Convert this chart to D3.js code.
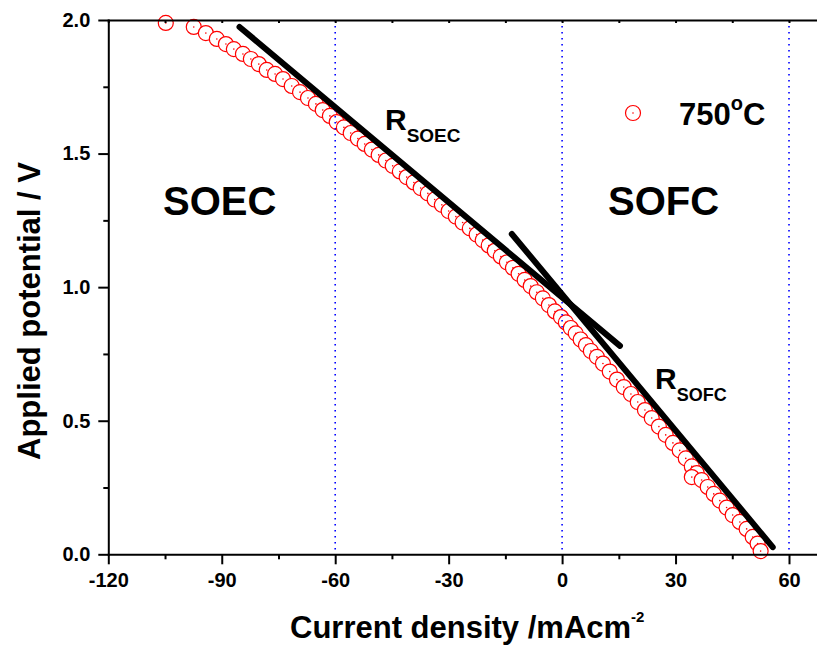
<!DOCTYPE html>
<html>
<head>
<meta charset="utf-8">
<script src="https://cdn.jsdelivr.net/npm/d3@7"></script>
<style>
  html, body { margin: 0; padding: 0; background: #fff; }
  svg { display: block; font-family: "Liberation Sans", Arial, sans-serif; font-weight: bold; }
</style>
</head>
<body>
<svg id="chart"></svg>
<script>
// i-V curve at 750 C (mA cm-2, V)
const currentDensity = [
  -104.8, -97.4, -94.2, -91.3, -88.9, -86.8, -84.4, -82.3, -80.2, -78.1, -75.9, -73.8, -71.5, -69.3, -67.2, -65.1, -63.3, -61.4, -59.6,
  -57.7, -55.9, -54.0, -52.2, -50.3, -48.5, -46.6, -44.8, -42.9, -41.1, -39.2, -37.4, -35.5, -33.7, -31.8, -30.0, -28.1, -26.3, -24.4, -22.6,
  -21.0, -19.4, -17.8, -16.2, -14.6, -13.0, -11.5, -9.9, -8.3, -6.7, -5.1, -3.5, -1.9, -0.3,
  1.0, 2.3, 3.6, 4.9, 6.3, 7.6, 9.2, 10.8, 12.6, 14.5, 16.3, 18.2, 20.0, 21.9, 23.7, 25.6, 27.4, 29.3, 31.1, 32.7, 34.3,
  35.6, 34.3, 36.9, 38.5, 40.1, 41.7, 43.5, 45.1, 47.0, 48.8, 50.4, 51.7, 52.5
];
const potential = [
  1.989, 1.974, 1.951, 1.929, 1.910, 1.891, 1.873, 1.854, 1.835, 1.813, 1.798, 1.779, 1.753, 1.730, 1.708, 1.686, 1.663, 1.641, 1.618,
  1.598, 1.577, 1.556, 1.536, 1.515, 1.495, 1.474, 1.454, 1.433, 1.412, 1.392, 1.371, 1.351, 1.328, 1.308, 1.285, 1.264, 1.242, 1.220, 1.197,
  1.176, 1.156, 1.136, 1.115, 1.093, 1.072, 1.050, 1.027, 1.004, 0.981, 0.958, 0.933, 0.909, 0.888,
  0.868, 0.847, 0.827, 0.804, 0.783, 0.761, 0.739, 0.714, 0.684, 0.654, 0.626, 0.600, 0.570, 0.540, 0.510, 0.478, 0.447, 0.417, 0.389, 0.359, 0.329,
  0.304, 0.289, 0.278, 0.252, 0.226, 0.201, 0.175, 0.147, 0.121, 0.095, 0.065, 0.040, 0.012
];

// tangent lines (ASR slopes)
const soecFit = [[-85.3, 1.974], [15.3, 0.780]];
const sofcFit = [[-13.3, 1.199], [55.7, 0.027]];

// axes
const xTicks = [-120, -90, -60, -30, 0, 30, 60];
const xMinorTicks = [-105, -75, -45, -15, 15, 45];
const yTicks = [0, 0.5, 1.0, 1.5, 2.0];
const yMinorTicks = [0.25, 0.75, 1.25, 1.75];
const dividers = [-60, 0, 60];

const width = 817;
const height = 653;
const margin = { top: 20, left: 108.3, bottom: 98.7 };
const pxPerUnit = (789 - 108.3) / 180;

const svg = d3.select("#chart").attr("width", width).attr("height", height);

// scales - x runs past the right edge, the frame is cut there
const x = d3.scaleLinear()
  .domain([-120, 70])
  .range([margin.left, margin.left + 190 * pxPerUnit]);
const y = d3.scaleLinear()
  .domain([0, 2])
  .range([height - margin.bottom, margin.top]);

const data = currentDensity.map((c, i) => ({ c, v: potential[i] }));

// points: open circles with white fill, later ones cover earlier ones
const pts = svg.append("g")
  .selectAll("g")
  .data(data)
  .join("g")
  .attr("transform", d => `translate(${x(d.c)},${y(d.v)})`);
pts.append("circle")
  .attr("r", 7.5)
  .attr("fill", "#fff")
  .attr("stroke", "#ff0000")
  .attr("stroke-width", 1.2);
pts.append("circle")
  .attr("r", 0.8)
  .attr("fill", "#ff0000");

// blue dotted separators
svg.append("g")
  .selectAll("line")
  .data(dividers)
  .join("line")
  .attr("x1", d => x(d))
  .attr("x2", d => x(d))
  .attr("y1", y(2))
  .attr("y2", y(0))
  .attr("stroke", "#0000ff")
  .attr("stroke-width", 1.6)
  .attr("stroke-dasharray", "1.6,4.4");

// fit lines
const line = d3.line().x(d => x(d[0])).y(d => y(d[1]));
svg.append("g")
  .selectAll("path")
  .data([soecFit, sofcFit])
  .join("path")
  .attr("d", line)
  .attr("fill", "none")
  .attr("stroke", "#000")
  .attr("stroke-width", 6)
  .attr("stroke-linecap", "round");

// axes
const styleAxis = (g) => {
  g.selectAll("path.domain").attr("stroke", "#000").attr("stroke-width", 2).attr("stroke-linecap", "square");
  g.selectAll(".tick line").attr("stroke", "#000").attr("stroke-width", 2);
  g.selectAll(".tick text").attr("font-size", 20).attr("font-weight", "bold").attr("fill", "#000")
    .attr("font-family", "'Liberation Sans', Arial, sans-serif");
};

svg.append("g")
  .attr("transform", `translate(0,${y(0)})`)
  .call(d3.axisBottom(x).tickValues(xMinorTicks).tickSize(5).tickFormat(""))
  .call(g => g.select(".domain").remove())
  .call(styleAxis);
svg.append("g")
  .attr("transform", `translate(0,${y(0)})`)
  .call(d3.axisBottom(x).tickValues(xTicks).tickSize(10).tickSizeOuter(0).tickPadding(9).tickFormat(d => String(d)))
  .call(styleAxis);

// top frame with short inward ticks
svg.append("g")
  .attr("transform", `translate(0,${y(2)})`)
  .call(d3.axisBottom(x).tickValues(xTicks.concat(xMinorTicks)).tickSize(3).tickSizeOuter(0).tickFormat(""))
  .call(styleAxis);

svg.append("g")
  .attr("transform", `translate(${x(-120)},0)`)
  .call(d3.axisLeft(y).tickValues(yMinorTicks).tickSize(5).tickFormat(""))
  .call(g => g.select(".domain").remove())
  .call(styleAxis);
svg.append("g")
  .attr("transform", `translate(${x(-120)},0)`)
  .call(d3.axisLeft(y).tickValues(yTicks).tickSize(10).tickSizeOuter(0).tickPadding(8).tickFormat(d => d.toFixed(1)))
  .call(styleAxis);

// axis titles
const xTitle = svg.append("text")
  .attr("x", 290)
  .attr("y", 638)
  .attr("font-size", 31);
xTitle.append("tspan").text("Current density /mAcm");
xTitle.append("tspan").attr("dy", -16).attr("font-size", 15).text("-2");

svg.append("text")
  .attr("transform", "translate(40,311) rotate(-90)")
  .attr("text-anchor", "middle")
  .attr("font-size", 31)
  .text("Applied potential / V");

// region labels
svg.append("text").attr("x", 163).attr("y", 215).attr("font-size", 40).text("SOEC");
svg.append("text").attr("x", 608).attr("y", 215).attr("font-size", 40).text("SOFC");

// resistance labels
const rLabel = (px, py, sub, subSize) => {
  const t = svg.append("text").attr("x", px).attr("y", py).attr("font-size", 30);
  t.append("tspan").text("R");
  t.append("tspan").attr("dy", 12).attr("font-size", subSize).text(sub);
};
rLabel(385, 130, "SOEC", 19);
rLabel(655, 389, "SOFC", 18);

// legend
const legend = svg.append("g");
legend.append("circle")
  .attr("cx", 633).attr("cy", 113).attr("r", 7.5)
  .attr("fill", "#fff").attr("stroke", "#ff0000").attr("stroke-width", 1.2);
legend.append("circle")
  .attr("cx", 633).attr("cy", 113).attr("r", 0.8).attr("fill", "#ff0000");
const lt = legend.append("text").attr("x", 679).attr("y", 125).attr("font-size", 31);
lt.append("tspan").text("750");
lt.append("tspan").attr("dy", -15).attr("font-size", 20).text("o");
lt.append("tspan").attr("dy", 15).text("C");
</script>
</body>
</html>
